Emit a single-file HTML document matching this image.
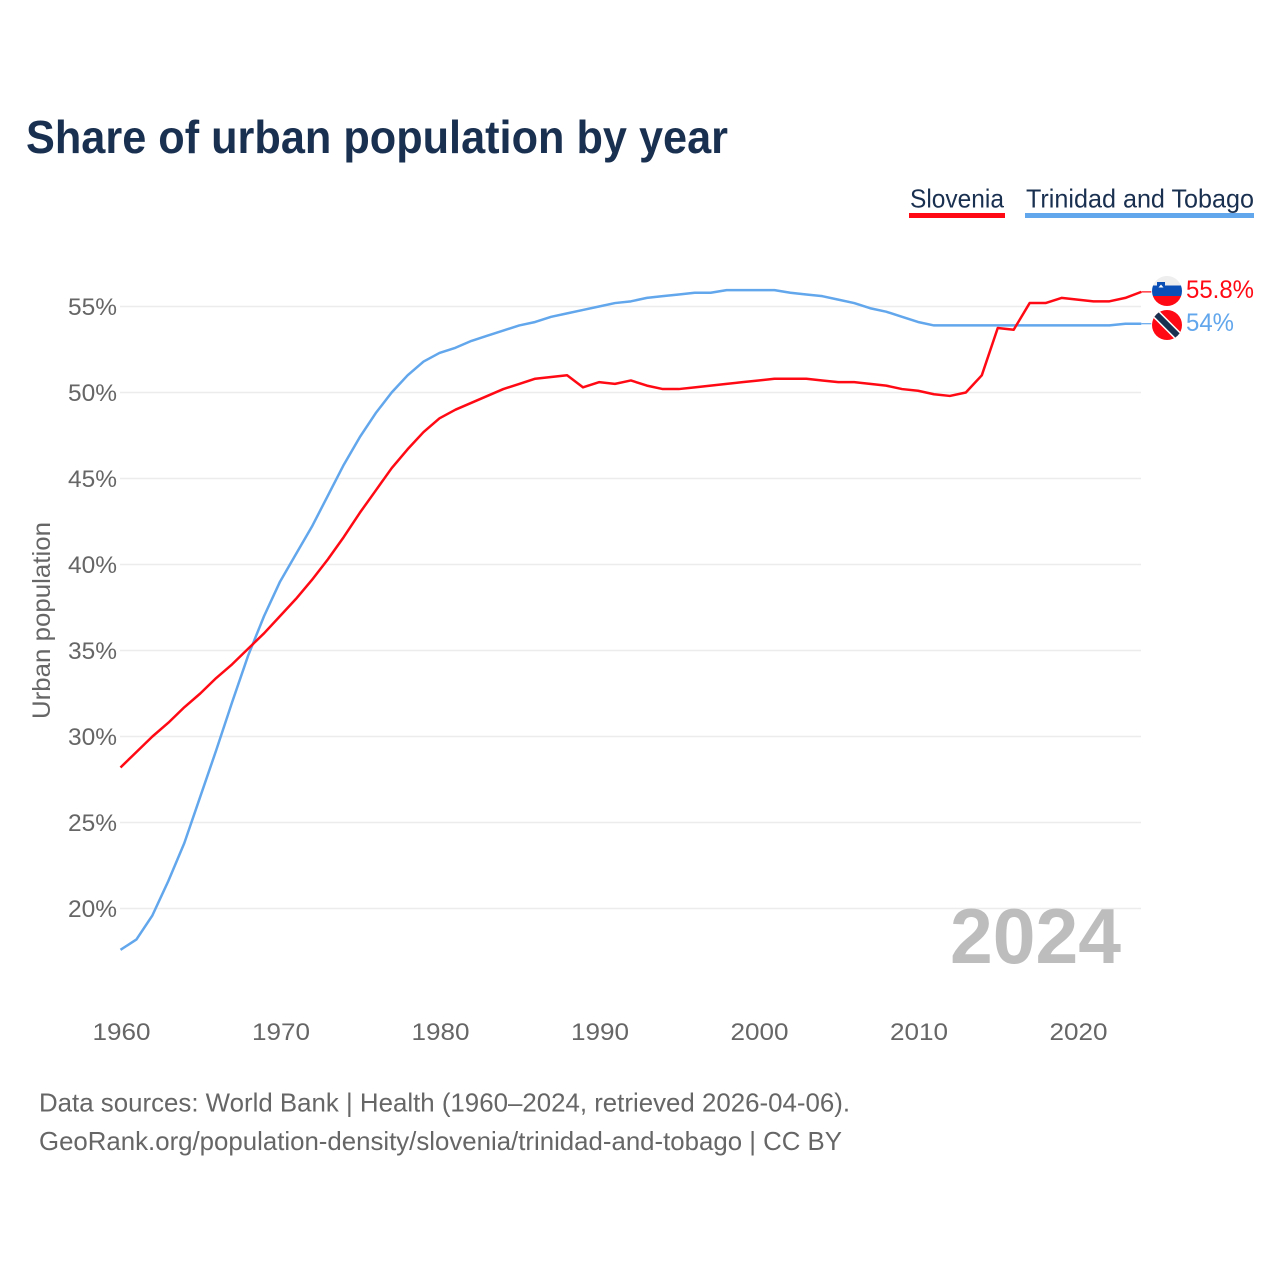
<!DOCTYPE html>
<html lang="en">
<head>
<meta charset="utf-8">
<title>Share of urban population by year</title>
<style>
html,body{margin:0;padding:0;background:#fff;width:1280px;height:1280px;overflow:hidden}
svg{display:block}
text{font-family:"Liberation Sans",sans-serif}
</style>
</head>
<body>
<svg id="chart" xmlns="http://www.w3.org/2000/svg" width="1280" height="1280" viewBox="0 0 1280 1280">
  <defs>
    <clipPath id="clip-si"><circle cx="1167" cy="291" r="15"/></clipPath>
    <clipPath id="clip-tt"><circle cx="1167" cy="325" r="15"/></clipPath>
  </defs>
  <text x="26" y="153" font-size="46" font-weight="700" fill="#1a3050" textLength="702" lengthAdjust="spacingAndGlyphs">Share of urban population by year</text>

  <g>
    <g>
      <text x="910" y="207.500" font-size="26" fill="#1a3050" textLength="94" lengthAdjust="spacingAndGlyphs">Slovenia</text>
      <rect x="909" y="213" width="96" height="5" fill="#ff0a14"/>
    </g>
    <g>
      <text x="1026" y="207.500" font-size="26" fill="#1a3050" textLength="228" lengthAdjust="spacingAndGlyphs">Trinidad and Tobago</text>
      <rect x="1025" y="213" width="229" height="5" fill="#62a6ec"/>
    </g>
  </g>

  <g id="grid"></g>
  <g id="yticks"></g>
  <g id="xticks"></g>

  <text transform="translate(50 620.5) rotate(-90)" text-anchor="middle" font-size="25" fill="#666" textLength="197" lengthAdjust="spacingAndGlyphs">Urban population</text>

  <text x="950" y="963" font-size="78" font-weight="700" fill="#bdbdbd" textLength="171" lengthAdjust="spacingAndGlyphs">2024</text>

  <g id="lines"></g>

  <g clip-path="url(#clip-si)">
    <rect x="1150" y="275" width="34" height="11" fill="#eeeeee"/>
    <rect x="1150" y="285.500" width="34" height="10.500" fill="#0a4fb5"/>
    <rect x="1150" y="296" width="34" height="12" fill="#ff0a14"/>
    <path d="M1157 282 h8 v5 q0 2.500 -4 4 q-4 -1.500 -4 -4 z" fill="#0a4fb5"/>
    <path d="M1158.500 287.500 l2.500 -3 l2.500 3 z" fill="#fff"/>
  </g>
  <g clip-path="url(#clip-tt)">
    <rect x="1150" y="308" width="34" height="34" fill="#ff0a14"/>
    <line x1="1153" y1="311" x2="1181" y2="339" stroke="#fff" stroke-width="9"/>
    <line x1="1153" y1="311" x2="1181" y2="339" stroke="#1a3050" stroke-width="6"/>
  </g>

  <text id="label-si" x="1186" y="298" font-size="25" fill="#ff0a14" textLength="68" lengthAdjust="spacingAndGlyphs">55.8%</text>
  <text id="label-tt" x="1186" y="331" font-size="25" fill="#62a6ec" textLength="48" lengthAdjust="spacingAndGlyphs">54%</text>

  <g>
    <text x="39" y="1111.500" font-size="26" fill="#666" textLength="811" lengthAdjust="spacingAndGlyphs">Data sources: World Bank | Health (1960–2024, retrieved 2026-04-06).</text>
    <text x="39" y="1150" font-size="26" fill="#666" textLength="803" lengthAdjust="spacingAndGlyphs">GeoRank.org/population-density/slovenia/trinidad-and-tobago | CC BY</text>
  </g>
</svg>
<script>
var startYear = 1960;
var sloveniaValues = [28.2,29.1,30.0,30.8,31.7,32.5,33.4,34.2,35.1,36.0,37.0,38.0,39.1,40.3,41.6,43.0,44.3,45.6,46.7,47.7,48.5,49.0,49.4,49.8,50.2,50.5,50.8,50.9,51.0,50.3,50.6,50.5,50.7,50.4,50.2,50.2,50.3,50.4,50.5,50.6,50.7,50.8,50.8,50.8,50.7,50.6,50.6,50.5,50.4,50.2,50.1,49.9,49.8,50.0,51.0,53.75,53.65,55.2,55.2,55.5,55.4,55.3,55.3,55.5,55.85];
var trinidadValues = [17.6,18.2,19.6,21.6,23.8,26.5,29.2,32.0,34.7,37.0,39.0,40.6,42.2,44.0,45.8,47.4,48.8,50.0,51.0,51.8,52.3,52.6,53.0,53.3,53.6,53.9,54.1,54.4,54.6,54.8,55.0,55.2,55.3,55.5,55.6,55.7,55.8,55.8,55.95,55.95,55.95,55.95,55.8,55.7,55.6,55.4,55.2,54.9,54.7,54.4,54.1,53.9,53.9,53.9,53.9,53.9,53.9,53.9,53.9,53.9,53.9,53.9,53.9,54.0,54.0];
var yTickValues = [20,25,30,35,40,45,50,55];
var yTickLabels = ['20%','25%','30%','35%','40%','45%','50%','55%'];
var xTickYears = [1960,1970,1980,1990,2000,2010,2020];

function xScale(year){ return 120.5 + (year - 1960) * 15.95; }
function yScale(v){ return 908.5 - (v - 20) * 17.2; }

var NS = 'http://www.w3.org/2000/svg';
var gridG = document.getElementById('grid');
var yG = document.getElementById('yticks');
var xG = document.getElementById('xticks');
var linesG = document.getElementById('lines');

yTickValues.forEach(function(v, i){
  var l = document.createElementNS(NS, 'line');
  
  
  l.setAttribute('x1', 120);
  l.setAttribute('x2', 1141);
  l.setAttribute('y1', yScale(v));
  l.setAttribute('y2', yScale(v));
  l.setAttribute('stroke', '#ececec');
  l.setAttribute('stroke-width', '1.6');
  gridG.appendChild(l);

  var t = document.createElementNS(NS, 'text');
  
  
  t.setAttribute('x', 68);
  t.setAttribute('y', yScale(v) + 8.5);
  t.setAttribute('font-size', '24');
  t.setAttribute('fill', '#666');
  t.setAttribute('textLength', '49');
  t.setAttribute('lengthAdjust', 'spacingAndGlyphs');
  t.textContent = yTickLabels[i];
  yG.appendChild(t);
});

xTickYears.forEach(function(year){
  var t = document.createElementNS(NS, 'text');
  
  
  t.setAttribute('x', xScale(year) - 28);
  t.setAttribute('y', 1040);
  t.setAttribute('font-size', '24');
  t.setAttribute('fill', '#666');
  t.setAttribute('textLength', '58');
  t.setAttribute('lengthAdjust', 'spacingAndGlyphs');
  t.textContent = String(year);
  xG.appendChild(t);
});

function pointsFor(values){
  return values.map(function(v, i){
    return xScale(startYear + i).toFixed(2) + ',' + yScale(v).toFixed(2);
  }).join(' ');
}

function connectorFor(values, color){
  var last = values[values.length - 1];
  var lastYear = startYear + values.length - 1;
  var c = document.createElementNS(NS, 'line');
  
  
  c.setAttribute('x1', xScale(lastYear));
  c.setAttribute('x2', xScale(lastYear) + 10);
  c.setAttribute('y1', yScale(last));
  c.setAttribute('y2', yScale(last));
  c.setAttribute('stroke', color);
  c.setAttribute('stroke-width', '1.2');
  linesG.appendChild(c);
}

connectorFor(trinidadValues, '#62a6ec');
connectorFor(sloveniaValues, '#ff0a14');

var blueLine = document.createElementNS(NS, 'polyline');


blueLine.setAttribute('points', pointsFor(trinidadValues));
blueLine.setAttribute('fill', 'none');
blueLine.setAttribute('stroke', '#62a6ec');
blueLine.setAttribute('stroke-width', '2.5');
blueLine.setAttribute('stroke-linejoin', 'round');
linesG.appendChild(blueLine);

var redLine = document.createElementNS(NS, 'polyline');


redLine.setAttribute('points', pointsFor(sloveniaValues));
redLine.setAttribute('fill', 'none');
redLine.setAttribute('stroke', '#ff0a14');
redLine.setAttribute('stroke-width', '2.5');
redLine.setAttribute('stroke-linejoin', 'round');
linesG.appendChild(redLine);
</script>
</body>
</html>
